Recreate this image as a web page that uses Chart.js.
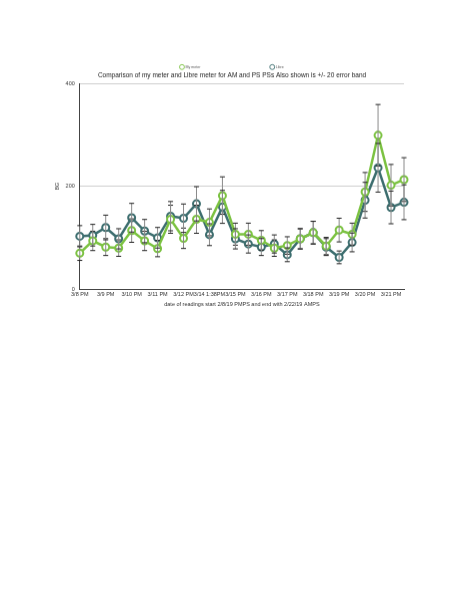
<!DOCTYPE html>
<html>
<head>
<meta charset="utf-8">
<script src="https://cdn.jsdelivr.net/npm/chart.js@4"></script>
<style>
  html, body { margin: 0; padding: 0; background: #fff; }
  body { width: 463px; height: 600px; position: relative; overflow: hidden; }
  #wrap { position: absolute; left: 54px; top: -5px; width: 356px; height: 311.5px; }
</style>
</head>
<body>
<div id="wrap"><canvas id="c"></canvas></div>
<script>
const categories = ["3/8 PM","3/9 AM","3/9 PM","3/10 AM","3/10 PM","3/11 AM","3/11 PM","3/12 AM","3/12 PM","3/13 AM",
  "3/14 1:38PM","3/15 AM","3/15 PM","3/16 AM","3/16 PM","3/17 AM","3/17 PM","3/18 AM","3/18 PM","3/19 AM",
  "3/19 PM","3/20 AM","3/20 PM","3/21 AM","3/21 PM","3/22 AM"];
const myMeter = [70, 94, 82, 80, 114, 94, 79, 136, 99, 136, 130, 182, 107, 107, 95, 80, 85, 98, 110, 84, 115, 107, 189, 299, 202, 213];
const libre   = [103, 105, 120, 98, 139, 113, 100, 142, 138, 166, 106, 160, 98, 88, 82, 88, 67, 98, 110, 82, 62, 91, 173, 236, 159, 169];
const errorPct = 20;
const yTicks = [0, 200, 400];

const errorBars = {
  id: 'errorBars',
  afterDatasetsDraw(chart) {
    const ctx = chart.ctx;
    const y = chart.scales.y;
    chart.data.datasets.forEach((ds, di) => {
      const meta = chart.getDatasetMeta(di);
      meta.data.forEach((pt, i) => {
        const v = ds.data[i];
        const e = v * errorPct / 100;
        const top = y.getPixelForValue(v + e);
        const bot = y.getPixelForValue(v - e);
        ctx.save();
        ctx.strokeStyle = '#8a8a8a';
        ctx.lineWidth = 1;
        ctx.beginPath();
        ctx.moveTo(pt.x, top); ctx.lineTo(pt.x, bot);
        ctx.stroke();
        ctx.strokeStyle = '#222';
        ctx.beginPath();
        ctx.moveTo(pt.x - 2.5, top); ctx.lineTo(pt.x + 2.5, top);
        ctx.moveTo(pt.x - 2.5, bot); ctx.lineTo(pt.x + 2.5, bot);
        ctx.stroke();
        ctx.restore();
      });
    });
  }
};

new Chart(document.getElementById('c'), {
  type: 'line',
  data: {
    labels: categories,
    datasets: [
      { label: 'My meter', data: myMeter, borderColor: '#7cc242', backgroundColor: '#ffffff',
        borderWidth: 2.5, pointRadius: 3.5, pointBorderWidth: 2, pointBackgroundColor: '#ffffff',
        pointBorderColor: '#7cc242', tension: 0 },
      { label: 'Libre', data: libre, borderColor: '#3d6e6f', backgroundColor: '#ffffff',
        borderWidth: 2.5, pointRadius: 3.5, pointBorderWidth: 2, pointBackgroundColor: '#ffffff',
        pointBorderColor: '#3d6e6f', tension: 0 }
    ]
  },
  options: {
    responsive: true,
    maintainAspectRatio: false,
    animation: false,
    layout: { padding: 0 },
    plugins: {
      legend: {
        position: 'top',
        weight: 3000,
        labels: {
          usePointStyle: true,
          pointStyle: 'circle',
          boxWidth: 3.5,
          boxHeight: 3.5,
          padding: 70,
          color: '#555',
          font: { family: 'Liberation Sans', size: 3.6 },
          generateLabels(chart) {
            const items = Chart.defaults.plugins.legend.labels.generateLabels(chart);
            items.forEach(it => { it.lineWidth = 0.9; it.fillStyle = '#ffffff'; });
            return items;
          }
        }
      },
      title: {
        display: true,
        text: 'Comparison of my meter and Libre meter for AM and PS PSs Also shown is +/- 20 error band',
        color: '#222',
        font: { family: 'Liberation Sans', size: 6.5, weight: 'normal' },
        padding: { top: -7.4, bottom: 4 }
      },
      tooltip: { enabled: false }
    },
    scales: {
      x: {
        offset: false,
        grid: { display: false, drawTicks: false },
        border: { display: true, color: '#444', width: 1 },
        ticks: {
          autoSkip: false, maxRotation: 0, minRotation: 0, padding: 2,
          color: '#333', font: { family: 'Liberation Sans', size: 5.5 },
          callback(val, idx) { return idx % 2 === 0 ? categories[idx] : ''; }
        },
        title: { display: true, text: 'date of readings start 2/8/19 PMPS and end with 2/22/19 AMPS',
          color: '#333', font: { family: 'Liberation Sans', size: 5.5 }, padding: { top: 1, bottom: 0 } }
      },
      y: {
        min: 0, max: 400,
        afterBuildTicks(axis) { axis.ticks = yTicks.map(v => ({ value: v })); },
        grid: { color: '#cfcfcf', drawTicks: false, lineWidth: 1 },
        border: { display: true, color: '#444', width: 1 },
        ticks: { color: '#333', padding: 5, font: { family: 'Liberation Sans', size: 5.5 } },
        title: { display: true, text: 'BG', color: '#333', font: { family: 'Liberation Sans', size: 5.5 }, padding: { top: 0, bottom: 0 } }
      }
    }
  },
  plugins: [errorBars]
});
</script>
</body>
</html>
